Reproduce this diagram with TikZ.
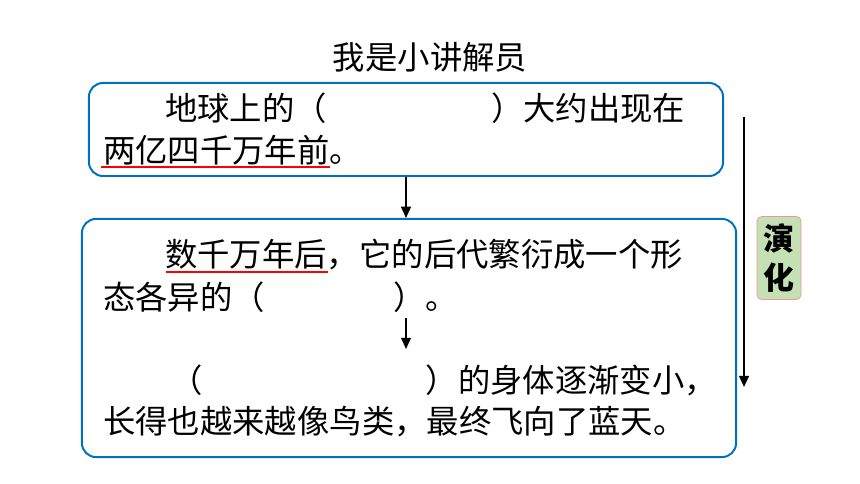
\documentclass[tikz,border=0pt]{standalone}
\usepackage{fontspec}
\newfontfamily\cjk{Noto Sans CJK SC}
\usetikzlibrary{arrows.meta}
\definecolor{boxblue}{HTML}{0070C0}
\definecolor{tagfill}{HTML}{C5E0B4}
\definecolor{tagline}{HTML}{E99A9A}
\tikzset{
  txt/.style={font=\cjk\fontsize{23}{27}\selectfont,inner sep=0pt,anchor=west},
  bluebox/.style={draw=boxblue,line width=1.4pt,rounded corners=0.35cm},
  redline/.style={red,line width=1.2pt},
  arr/.style={line width=1.1pt,-{Triangle[length=8pt,width=7pt]}}
}
\begin{document}
\begin{tikzpicture}[x=0.025cm,y=-0.025cm]
\useasboundingbox[fill=white] (0,0) rectangle (860,484);
\node[bluebox,minimum width=15.85cm,minimum height=2.325cm] (box1) at (406,129.5) {};
\node[bluebox,minimum width=16.35cm,minimum height=5.95cm] (box2) at (409,338) {};
\node[txt,anchor=center] (title) at (430,57) {我是小讲解员};
\node[txt] (l1) at (165,108) {地球上的（\hspace{4.1cm}）大约出现在};
\node[txt] (l2) at (103,150) {两亿四千万年前。};
\draw[redline] (101,167) -- (330,167);
\node[txt] (l3) at (165,255) {数千万年后，它的后代繁衍成一个形};
\draw[redline] (166,272) -- (328,272);
\node[txt] (l4) at (103,297) {态各异的（\hspace{3.2cm}）。};
\node[txt] (l5) at (170,380) {（\hspace{5.58cm}）的身体逐渐变小，};
\node[txt] (l6) at (103,422) {长得也越来越像鸟类，最终飞向了蓝天。};
\draw[arr] (box1.south) -- (box1.south |- box2.north);
\coordinate (in1) at (406,318);
\coordinate (in2) at (406,349);
\draw[arr] (in1) -- (in2);
\coordinate (evtop) at (744,117);
\coordinate (evend) at (744,387);
\draw[arr,line width=1.4pt] (evtop) -- (evend);
\node[draw=tagline,fill=tagfill,rounded corners=0.12cm,line width=0.6pt,
      minimum width=1.1cm,minimum height=2.075cm,inner sep=0pt,align=center,
      font=\cjk\bfseries\fontsize{22}{28}\selectfont] (tag) at (779,258) {演\\化};
\end{tikzpicture}
\end{document}
